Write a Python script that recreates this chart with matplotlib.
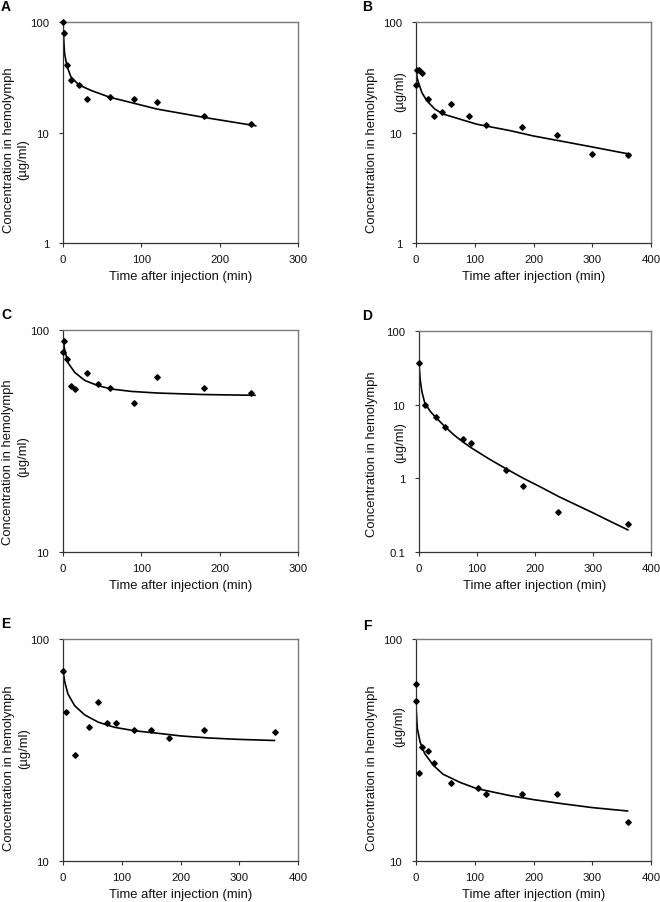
import numpy as np
import matplotlib
matplotlib.use('Agg')
import matplotlib.pyplot as plt

plt.rcParams['font.family'] = ['Liberation Sans', 'DejaVu Sans']

## measured points (time in min, concentration in ug/ml)
A_t = [0, 1, 5, 10, 20, 30, 60, 90, 120, 180, 240]
A_c = [100, 80, 41, 30, 27, 20, 21, 20, 19, 14, 12]
B_t = [0, 2, 5, 10, 20, 30, 45, 60, 90, 120, 180, 240, 300, 360]
B_c = [27, 37, 37, 34.5, 20, 14, 15.4, 18, 14, 11.8, 11.2, 9.4, 6.4, 6.2]
C_t = [0, 1, 5, 10, 15, 30, 45, 60, 90, 120, 180, 240]
C_c = [80, 89.5, 74, 56, 54, 64, 57, 55, 47, 61.5, 55, 52]
D_t = [0, 10, 30, 45, 75, 90, 150, 180, 240, 360]
D_c = [37, 10, 6.9, 5.0, 3.4, 3.0, 1.3, 0.78, 0.35, 0.24]
E_t = [0, 5, 20, 45, 60, 75, 90, 120, 150, 180, 240, 360]
E_c = [72, 47, 30, 40, 52, 42, 42, 39, 39, 36, 39, 38]
F_t = [0, 0, 5, 10, 20, 30, 60, 105, 120, 180, 240, 360]
F_c = [62.5, 52.5, 25, 32.6, 31.4, 27.5, 22.5, 21.3, 20, 20, 20, 15]

## fitted curves
A_fit_t = [0, 1, 2, 5, 10, 20, 36, 60, 80, 120, 180, 246]
A_fit_c = [100, 68, 52, 40, 32, 27, 24, 20.8, 19.2, 16.3, 13.7, 11.5]
B_fit_t = [0, 2, 4, 10, 18, 32, 46, 75, 103, 160, 200, 250, 300, 365]
B_fit_c = [37.5, 31, 28.5, 23, 19.5, 16.3, 14.7, 13.2, 11.9, 10.4, 9.3, 8.3, 7.4, 6.35]
C_fit_t = [0, 2, 6, 15, 28, 45, 62, 87, 121, 180, 245]
C_fit_c = [91, 82, 71.5, 64.4, 59.2, 56.1, 54.2, 52.9, 52, 51.2, 50.8]
D_fit_t = [0, 2, 5, 10, 20, 30, 45, 60, 75, 90, 120, 150, 180, 210, 240, 270, 300, 330, 360]
D_fit_c = [37, 22, 15, 10.5, 8.0, 6.6, 5.0, 3.9, 3.15, 2.6, 1.85, 1.35, 1.0, 0.76, 0.57, 0.44, 0.34, 0.26, 0.2]
E_fit_t = [0, 3, 8.5, 20, 37, 60, 88, 122, 162, 200, 250, 300, 360]
E_fit_c = [72, 64, 56.5, 50, 45.5, 42.2, 40, 38.6, 37.6, 36.6, 35.8, 35.3, 34.9]
F_fit_t = [0, 2.3, 7, 15, 30, 46, 75, 103, 160, 200, 250, 300, 360]
F_fit_c = [50, 39.5, 34.3, 30.4, 26.9, 24.6, 22.6, 21.2, 19.7, 18.9, 18.1, 17.4, 16.8]

XLABEL = 'Time after injection (min)'
YLABEL1 = 'Concentration in hemolymph'
YLABEL2 = '(\u00b5g/ml)'

W, H = 660, 903

# letter, data, fit, xmax, ylim, axes box (l, t, r, b), letter pos, ylabel line1 pos, line2 pos  (pixels)
panels = [
	('A', A_t, A_c, A_fit_t, A_fit_c, 300, (1, 100), (63, 23, 298, 244), (6, 7), (9, 150), (23, 160)),
	('B', B_t, B_c, B_fit_t, B_fit_c, 400, (1, 100), (416, 23, 651, 244), (367, 7), (372, 150), (400, 92)),
	('C', C_t, C_c, C_fit_t, C_fit_c, 300, (10, 100), (63, 331, 298, 553), (6, 315), (8, 462), (23, 457)),
	('D', D_t, D_c, D_fit_t, D_fit_c, 400, (0.1, 100), (419, 332, 651, 553), (367, 316), (372, 454), (400, 443)),
	('E', E_t, E_c, E_fit_t, E_fit_c, 400, (10, 100), (63, 640, 298, 862), (6, 624), (9, 768), (24, 749)),
	('F', F_t, F_c, F_fit_t, F_fit_c, 400, (10, 100), (416, 640, 651, 862), (367, 626), (372, 768), (399, 727)),
]

fig = plt.figure(figsize=(W/100, H/100), dpi=100)

for letter, t, c, ft, fc, xmax, ylim, box, lpos, y1pos, y2pos in panels:
	l, top, r, b = box
	ax = fig.add_axes([l/W, 1 - b/H, (r - l)/W, (b - top)/H])
	ax.plot(ft, fc, color='black', lw=1.2, zorder=2)
	ax.plot(t, c, 'D', color='black', ms=2.8, zorder=3, clip_on=False)
	ax.set_yscale('log')
	ax.set_xlim(0, xmax)
	ax.set_ylim(*ylim)
	yt = [10.0**k for k in range(int(round(np.log10(ylim[0]))), int(round(np.log10(ylim[1]))) + 1)]
	ax.set_yticks(yt)
	ax.set_yticklabels(['%g' % v for v in yt])
	ax.minorticks_off()
	ax.set_xticks(np.arange(0, xmax + 1, 100))
	ax.tick_params(axis='both', labelsize=8.2, length=3, width=0.8, color='#333333', labelcolor='#111111')
	ax.tick_params(axis='y', pad=7)
	ax.tick_params(axis='x', pad=5)
	for side in ['left', 'bottom']:
		ax.spines[side].set_color('#333333')
		ax.spines[side].set_linewidth(0.9)
	for side in ['top', 'right']:
		ax.spines[side].set_color('#7a7a7a')
		ax.spines[side].set_linewidth(1.0)
	ax.set_xlabel(XLABEL, fontsize=9.4, labelpad=4, color='#111111')
	fig.text(y1pos[0]/W, 1 - y1pos[1]/H, YLABEL1, fontsize=9.4, rotation=90,
		ha='center', va='center', color='#111111')
	fig.text(y2pos[0]/W, 1 - y2pos[1]/H, YLABEL2, fontsize=9.4, rotation=90,
		ha='center', va='center', color='#111111')
	fig.text(lpos[0]/W, 1 - lpos[1]/H, letter, fontsize=10, fontweight='bold',
		ha='center', va='center')

fig.savefig('out.png', dpi=100)
